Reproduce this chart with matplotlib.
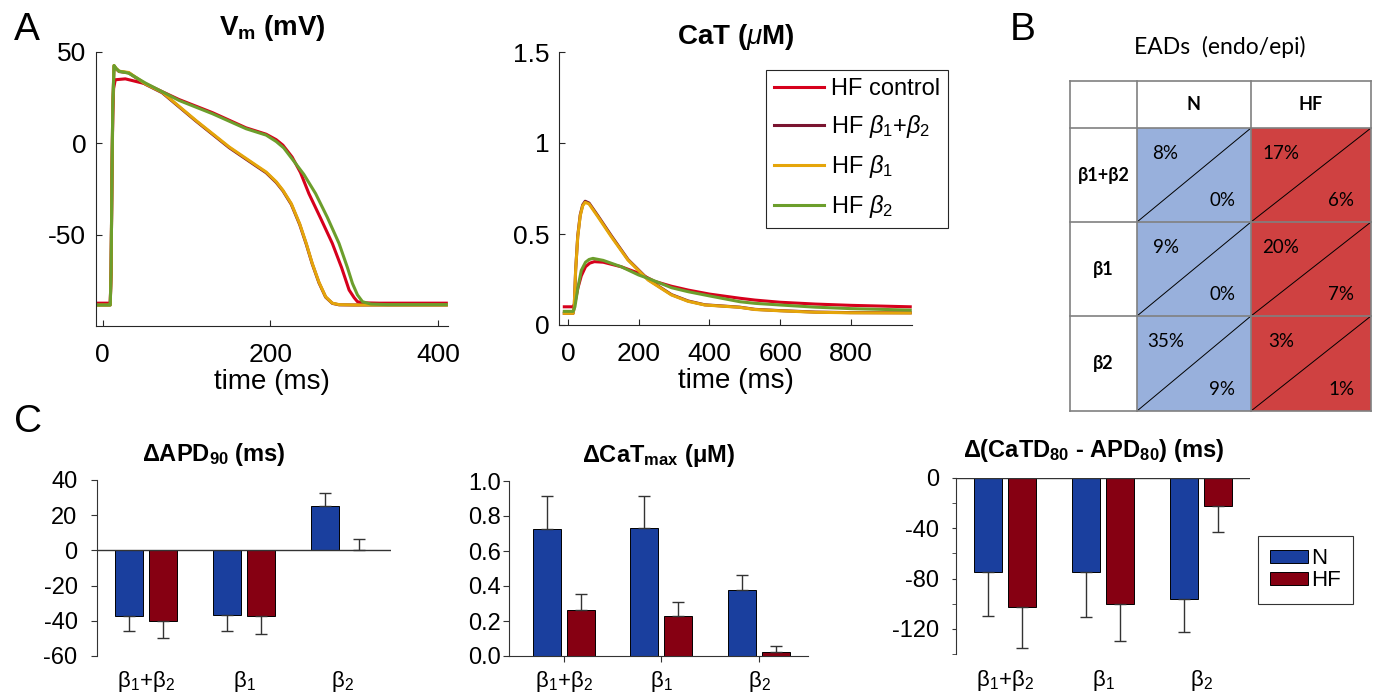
import numpy as np
import matplotlib.pyplot as plt
from matplotlib.patches import Patch, Rectangle

plt.rcParams['font.family'] = ['Liberation Sans', 'DejaVu Sans']
plt.rcParams['mathtext.fontset'] = 'custom'
plt.rcParams['mathtext.rm'] = 'Liberation Sans'
plt.rcParams['mathtext.it'] = 'Liberation Sans:italic'
plt.rcParams['mathtext.bf'] = 'Liberation Sans:bold'
plt.rcParams['axes.unicode_minus'] = False

# ---- panel A: Vm traces (ms, mV) ----
t_vm_ctrl = [-5, 9, 10, 11, 12, 13, 15, 27, 51, 91, 131, 171, 195, 207, 215, 226, 236, 246, 260, 274, 285, 294, 300, 304, 310, 330, 410]
vm_ctrl = [-87.5, -87.5, -70, -20, 15, 30, 34.8, 35.3, 32.6, 24, 16.8, 8.5, 5, 2, -1, -7.5, -16, -27.5, -41, -54.8, -68, -80.3, -84.5, -86.7, -87.3, -87.5, -87.5]
t_vm_b2 = [-5, 9, 10, 11, 12, 13.5, 16, 19.5, 31, 51, 91, 131, 171, 195, 207, 216, 226, 240, 254, 268, 282, 292, 298, 304, 310, 320, 340, 410]
vm_b2 = [-88.5, -88.5, -70, -20, 20, 42.6, 41, 39.5, 38.4, 33, 23.5, 16.2, 8, 4.5, 1, -2.5, -8.5, -17, -27.5, -40.5, -54.8, -68, -76.7, -83, -86.7, -88, -88.3, -88.3]
t_vm_b1 = [-5, 9, 10, 11, 12, 13.5, 16, 19.5, 31, 51, 71, 111, 151, 183, 195, 207, 215, 225, 235, 243, 250, 258, 266, 274, 282, 300, 410]
vm_b1 = [-88.5, -88.5, -70, -20, 20, 42.6, 41, 39.5, 38.8, 32.5, 28, 12.6, -2, -12, -15.7, -21, -25.7, -33, -44, -55, -65.7, -76, -84, -87.5, -88.3, -88.5, -88.5]
t_vm_b12 = t_vm_b1
vm_b12 = [-88.5, -88.5, -70, -20, 20, 42.3, 40.8, 39.3, 38.6, 32.3, 27.7, 12.3, -2.4, -12.4, -16.1, -21.4, -26, -33.4, -44.4, -55.4, -66, -76.3, -84.2, -87.6, -88.4, -88.5, -88.5]

# ---- panel A: CaT traces (ms, uM) ----
t_ca_ctrl = [-10, 15, 20, 28, 38, 50, 62, 75, 100, 151, 200, 245, 293, 340, 400, 486, 529, 600, 700, 800, 968]
ca_ctrl = [0.10, 0.10, 0.12, 0.20, 0.27, 0.32, 0.34, 0.348, 0.345, 0.32, 0.285, 0.24, 0.213, 0.192, 0.17, 0.147, 0.137, 0.125, 0.115, 0.108, 0.10]
t_ca_b2 = [-10, 15, 20, 28, 38, 50, 60, 71, 100, 151, 200, 227, 293, 340, 400, 486, 529, 600, 700, 800, 968]
ca_b2 = [0.075, 0.075, 0.10, 0.20, 0.30, 0.345, 0.36, 0.366, 0.355, 0.32, 0.275, 0.256, 0.205, 0.183, 0.16, 0.128, 0.119, 0.11, 0.098, 0.09, 0.082]
t_ca_b1 = [-10, 15, 18, 22, 28, 35, 42, 49, 60, 85, 123, 170, 227, 293, 340, 387, 486, 529, 600, 700, 800, 968]
ca_b1 = [0.064, 0.064, 0.10, 0.30, 0.485, 0.60, 0.655, 0.674, 0.665, 0.595, 0.485, 0.357, 0.247, 0.165, 0.13, 0.11, 0.097, 0.085, 0.078, 0.07, 0.067, 0.066]
t_ca_b12 = t_ca_b1
ca_b12 = [0.064, 0.064, 0.10, 0.30, 0.49, 0.605, 0.66, 0.68, 0.67, 0.60, 0.49, 0.36, 0.25, 0.167, 0.132, 0.111, 0.098, 0.086, 0.079, 0.071, 0.068, 0.067]

trace_labels = ['HF control', 'HF $\\beta_1$+$\\beta_2$', 'HF $\\beta_1$', 'HF $\\beta_2$']
trace_colors = ['#d6001c', '#7a1430', '#e5a50a', '#6c9e2c']

# ---- panel B: EAD table ----
ead_rows = ['β1+β2', 'β1', 'β2']
ead_cols = ['N', 'HF']
ead_endo = [['8%', '17%'], ['9%', '20%'], ['35%', '3%']]
ead_epi = [['0%', '6%'], ['0%', '7%'], ['9%', '1%']]

# ---- panel C: bar data ----
groups = ['β$_1$+β$_2$', 'β$_1$', 'β$_2$']
apd_n = [-37, -36.7, 25.2]
apd_n_err = [9, 8.9, 7.3]
apd_hf = [-40, -37.3, 0.5]
apd_hf_err = [9.8, 10, 5.9]
cat_n = [0.728, 0.73, 0.379]
cat_n_err = [0.184, 0.182, 0.086]
cat_hf = [0.261, 0.227, 0.025]
cat_hf_err = [0.095, 0.082, 0.032]
dd_n = [-75.1, -75.1, -96.5]
dd_n_err = [34.6, 35.1, 25.9]
dd_hf = [-102.6, -100.5, -22.5]
dd_hf_err = [32.5, 29.5, 20.3]

W, H = 1380, 694
fig = plt.figure(figsize=(W / 100, H / 100), dpi=100)
spc = '#262626'
tfont = ['Lato', 'DejaVu Sans']


def rect(x0, y0, x1, y1):
    return [x0 / W, 1 - y1 / H, (x1 - x0) / W, (y1 - y0) / H]


def style_a(ax):
    for s in ['top', 'right']:
        ax.spines[s].set_visible(False)
    for s in ['left', 'bottom']:
        ax.spines[s].set_color(spc)
        ax.spines[s].set_linewidth(0.8)
    ax.tick_params(direction='in', length=4, width=0.8, color=spc, labelsize=19)
    ax.tick_params(axis='x', pad=12)
    ax.tick_params(axis='y', pad=7)


# A1: Vm
ax1 = fig.add_axes(rect(96, 52, 448, 326))
vm_sets = [(t_vm_ctrl, vm_ctrl), (t_vm_b12, vm_b12), (t_vm_b1, vm_b1), (t_vm_b2, vm_b2)]
for (t, v), c in zip(vm_sets, trace_colors):
    ax1.plot(t, v, color=c, lw=2.2, solid_joinstyle='round')
ax1.set_xlim(-8, 412)
ax1.set_ylim(-100, 50)
ax1.set_xticks([0, 200, 400])
ax1.set_yticks([-50, 0, 50])
style_a(ax1)
ax1.set_xlabel('time (ms)', fontsize=20, labelpad=2)
ax1.set_title('V$_\\mathbf{m}$ (mV)', fontsize=20, fontweight='bold', pad=12)

# A2: CaT
ax2 = fig.add_axes(rect(559, 52, 912, 325))
ca_sets = [(t_ca_ctrl, ca_ctrl), (t_ca_b12, ca_b12), (t_ca_b1, ca_b1), (t_ca_b2, ca_b2)]
lines = []
for (t, v), c, lab in zip(ca_sets, trace_colors, trace_labels):
    ln, = ax2.plot(t, v, color=c, lw=2.2, label=lab)
    lines.append(ln)
ax2.set_xlim(-25, 973)
ax2.set_ylim(0, 1.5)
ax2.set_xticks([0, 200, 400, 600, 800])
ax2.set_yticks([0, 0.5, 1, 1.5], ['0', '0.5', '1', '1.5'])
style_a(ax2)
ax2.set_xlabel('time (ms)', fontsize=20, labelpad=2)
ax2.set_title('CaT ($\\mu$M)', fontsize=20, fontweight='bold', pad=6)
leg = fig.legend(lines, trace_labels, loc='upper left', bbox_to_anchor=(766 / W, 1 - 70 / H),
                 fontsize=17, frameon=True, fancybox=False, edgecolor=spc, framealpha=1,
                 handlelength=2.1, handletextpad=0.3, borderpad=0.35, labelspacing=0.55,
                 borderaxespad=0)
leg.get_frame().set_linewidth(0.8)

# B: table
axt = fig.add_axes([0, 0, 1, 1], facecolor='none')
axt.set_xlim(0, W)
axt.set_ylim(H, 0)
axt.axis('off')
col_edges = [1070, 1137, 1251, 1371]
row_edges = [81, 128, 222, 316, 411]
fills = ['#98b0dc', '#cf4141']
for i in range(len(ead_rows)):
    for j in range(len(ead_cols)):
        x0, x1 = col_edges[j + 1], col_edges[j + 2]
        y0, y1 = row_edges[i + 1], row_edges[i + 2]
        axt.add_patch(Rectangle((x0, y0), x1 - x0, y1 - y0, facecolor=fills[j], edgecolor='none'))
        axt.plot([x0, x1], [y1, y0], color='black', lw=0.7)
        axt.text(x0 + 0.25 * (x1 - x0), y0 + 0.27 * (y1 - y0), ead_endo[i][j],
                 ha='center', va='center', fontsize=13.5, family=tfont)
        axt.text(x0 + 0.75 * (x1 - x0), y0 + 0.77 * (y1 - y0), ead_epi[i][j],
                 ha='center', va='center', fontsize=13.5, family=tfont)
for x in col_edges:
    axt.plot([x, x], [row_edges[0], row_edges[-1]], color='#808080', lw=1.2)
for y in row_edges:
    axt.plot([col_edges[0], col_edges[-1]], [y, y], color='#808080', lw=1.2)
for j, c in enumerate(ead_cols):
    axt.text((col_edges[j + 1] + col_edges[j + 2]) / 2, (row_edges[0] + row_edges[1]) / 2, c,
             ha='center', va='center', fontsize=13, fontweight='bold', family=tfont)
for i, r in enumerate(ead_rows):
    axt.text((col_edges[0] + col_edges[1]) / 2, (row_edges[i + 1] + row_edges[i + 2]) / 2, r,
             ha='center', va='center', fontsize=13, fontweight='bold', family=tfont)
axt.text(1220, 47, 'EADs  (endo/epi)', ha='center', va='center', fontsize=16.5, family=tfont)

# panel letters
fig.text(27 / W, 1 - 30 / H, 'A', fontsize=28, ha='center', va='center')
fig.text(1023 / W, 1 - 30 / H, 'B', fontsize=28, ha='center', va='center')
fig.text(28 / W, 1 - 422 / H, 'C', fontsize=28, ha='center', va='center')

# C: bar charts
blue, dred = '#1a3f9e', '#860012'
x = np.arange(len(groups))
bw, off = 0.287, 0.174


def bars(ax, n, n_err, hf, hf_err):
    for vals, errs, col, dx in [(n, n_err, blue, -off), (hf, hf_err, dred, off)]:
        vals = np.array(vals)
        errs = np.array(errs)
        lo = np.where(vals < 0, errs, 0)
        hi = np.where(vals >= 0, errs, 0)
        ax.bar(x + dx, vals, bw, color=col, edgecolor='black', linewidth=0.7,
               yerr=[lo, hi], error_kw=dict(ecolor='#333333', elinewidth=1, capsize=4, capthick=1))
    for s in ['top', 'right']:
        ax.spines[s].set_visible(False)
    ax.spines['left'].set_color('#333333')
    ax.spines['bottom'].set_color('#333333')
    ax.set_xticks(x, groups)
    ax.tick_params(axis='y', labelsize=17, direction='out', length=4, color='#333333')
    ax.tick_params(axis='x', labelsize=16, length=0, pad=9)
    ax.set_xlim(-0.5, 2.5)


c1 = fig.add_axes(rect(97, 480, 391, 656))
bars(c1, apd_n, apd_n_err, apd_hf, apd_hf_err)
c1.set_ylim(-60, 40)
c1.set_yticks(np.arange(-60, 41, 20))
c1.tick_params(axis='y', pad=10)
c1.spines['bottom'].set_visible(False)
c1.axhline(0, color='#333333', lw=1)
c1.set_title('ΔAPD$_{\\mathbf{90}}$ (ms)', fontsize=17, fontweight='bold', pad=14, x=0.398)

c2 = fig.add_axes(rect(509, 481, 808, 656))
bars(c2, cat_n, cat_n_err, cat_hf, cat_hf_err)
c2.set_ylim(0, 1.0)
c2.set_xlim(-0.56, 2.5)
c2.set_yticks(np.arange(0, 1.01, 0.2))
c2.yaxis.set_major_formatter(plt.FormatStrFormatter('%.1f'))
c2.tick_params(axis='y', pad=2)
c2.tick_params(axis='x', length=4, direction='out', color='#333333', pad=5)
c2.set_title('ΔCaT$_{\\mathbf{max}}$ (μM)', fontsize=17, fontweight='bold', pad=14)

c3 = fig.add_axes(rect(956, 478, 1250, 654))
bars(c3, dd_n, dd_n_err, dd_hf, dd_hf_err)
c3.set_ylim(-140, 0)
c3.set_yticks([-120, -80, -40, 0])
c3.set_yticks([-140, -100, -60, -20], minor=True)
c3.tick_params(axis='y', which='both', length=3, color='#333333', pad=9)
c3.tick_params(axis='x', pad=10)
c3.spines['bottom'].set_visible(False)
c3.axhline(0, color='#333333', lw=1)
c3.set_title('Δ(CaTD$_{\\mathbf{80}}$ - APD$_{\\mathbf{80}}$) (ms)', fontsize=17, fontweight='bold',
             pad=15, x=0.469)
leg2 = fig.legend([Patch(facecolor=blue, edgecolor='black', lw=0.7), Patch(facecolor=dred, edgecolor='black', lw=0.7)],
                  ['N', 'HF'], loc='upper left', bbox_to_anchor=(1258 / W, 1 - 536 / H),
                  fontsize=16, frameon=True, fancybox=False, edgecolor='#333333', framealpha=1,
                  handlelength=1.7, handleheight=0.55, handletextpad=0.15, borderpad=0.55,
                  labelspacing=0.05, borderaxespad=0)
leg2.get_frame().set_linewidth(0.8)

plt.savefig('out.png', dpi=100)
